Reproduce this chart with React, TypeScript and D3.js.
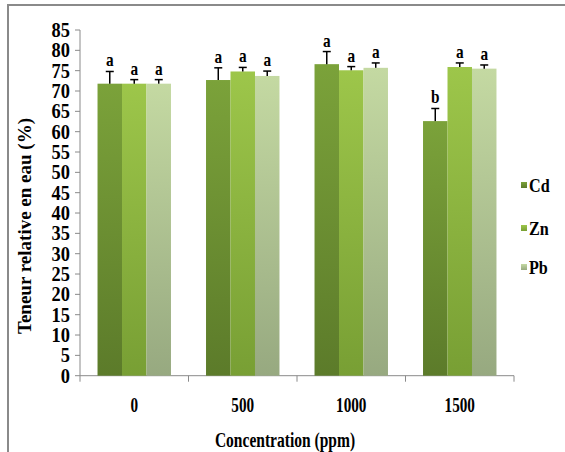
import React from "react";
import * as d3 from "d3";

const categories = ["0", "500", "1000", "1500"];
const seriesNames = ["Cd", "Zn", "Pb"];
const cdValues = [71.8, 72.7, 76.6, 62.6];
const znValues = [71.8, 74.8, 75.1, 75.9];
const pbValues = [71.8, 73.7, 75.7, 75.5];
const cdErrors = [3.0, 3.0, 3.1, 3.1];
const znErrors = [1.0, 1.0, 0.9, 1.0];
const pbErrors = [1.0, 1.2, 1.2, 0.9];
const cdLetters = ["a", "a", "a", "b"];
const znLetters = ["a", "a", "a", "a"];
const pbLetters = ["a", "a", "a", "a"];
const yTicks = d3.range(0, 90, 5);

const values = [cdValues, znValues, pbValues];
const errors = [cdErrors, znErrors, pbErrors];
const letters = [cdLetters, znLetters, pbLetters];
const gradTop = ["#7ba23a", "#9dc64a", "#c4d9a2"];
const gradBot = ["#5c7b2a", "#789f34", "#97a980"];

const W = 565, H = 452;
const left = 80, right = 514, top = 30, bottom = 375.7;

export default function App() {
  const x = d3.scaleBand<string>().domain(categories).range([left, right]).paddingInner(0.323).paddingOuter(0.1615);
  const xs = d3.scaleBand<string>().domain(seriesNames).range([0, x.bandwidth()]);
  const y = d3.scaleLinear().domain([0, 85]).range([bottom, top]);
  const step = (right - left) / categories.length;
  const font = "Liberation Serif, serif";

  return (
    <svg width={W} height={H} style={{ position: "absolute", left: 0, top: 0 }}>
      <defs>
        {seriesNames.map((s, i) => (
          <linearGradient key={s} id={`g${i}`} x1="0" y1="0" x2="0" y2="1">
            <stop offset="0" stopColor={gradTop[i]} />
            <stop offset="1" stopColor={gradBot[i]} />
          </linearGradient>
        ))}
      </defs>
      <rect x={0} y={0} width={W} height={H} fill="#fff" />
      <path d={`M8,${H} V5 H${W}`} fill="none" stroke="#8a8a8a" strokeWidth={2} />
      {/* y axis */}
      <line x1={left} x2={left} y1={top} y2={bottom} stroke="#8a8a8a" strokeWidth={1} />
      {yTicks.map((t) => (
        <g key={t}>
          <line x1={left - 5} x2={left} y1={y(t)} y2={y(t)} stroke="#8a8a8a" />
          <text transform={`translate(70,${y(t)}) scale(0.92,1)`} dy="0.35em" textAnchor="end" fontFamily={font} fontWeight="bold" fontSize={20}>
            {t}
          </text>
        </g>
      ))}
      {/* x axis */}
      <line x1={left} x2={right} y1={bottom} y2={bottom} stroke="#8a8a8a" strokeWidth={1} />
      {d3.range(categories.length + 1).map((i) => (
        <line key={i} x1={left + i * step} x2={left + i * step} y1={bottom} y2={bottom + 6} stroke="#8a8a8a" />
      ))}
      {/* bars */}
      {categories.map((c, ci) => (
        <g key={c}>
          {seriesNames.map((s, si) => {
            const v = values[si][ci];
            const e = errors[si][ci];
            const bx = (x(c) as number) + (xs(s) as number);
            const bw = xs.bandwidth();
            const cx = bx + bw / 2;
            return (
              <g key={s}>
                <rect x={bx} y={y(v)} width={bw} height={bottom - y(v)} fill={`url(#g${si})`} />
                <line x1={cx} x2={cx} y1={y(v)} y2={y(v + e)} stroke="#000" strokeWidth={1.5} />
                <line x1={cx - 4} x2={cx + 4} y1={y(v + e)} y2={y(v + e)} stroke="#000" strokeWidth={1.5} />
                <text transform={`translate(${cx},${y(v + e) - 5}) scale(0.85,1)`} textAnchor="middle" fontFamily={font} fontWeight="bold" fontSize={18}>
                  {letters[si][ci]}
                </text>
              </g>
            );
          })}
          <text
            transform={`translate(${(x(c) as number) + x.bandwidth() / 2},${412}) scale(0.76,1)`}
            textAnchor="middle"
            fontFamily={font}
            fontWeight="bold"
            fontSize={20}
          >
            {c}
          </text>
        </g>
      ))}
      {/* axis titles */}
      <text transform={`translate(285,447) scale(0.74,1)`} textAnchor="middle" fontFamily={font} fontWeight="bold" fontSize={21}>
        Concentration (ppm)
      </text>
      <text transform={`translate(31,226) rotate(-90)`} textAnchor="middle" fontFamily={font} fontWeight="bold" fontSize={19}>
        Teneur relative en eau (%)
      </text>
      {/* legend */}
      {seriesNames.map((s, i) => {
        const ly = [185, 228, 267][i];
        return (
          <g key={s}>
            <rect x={521} y={ly - 3} width={6} height={6} fill={`url(#g${i})`} />
            <text transform={`translate(529,${ly}) scale(0.85,1)`} dy="0.35em" fontFamily={font} fontWeight="bold" fontSize={19}>
              {s}
            </text>
          </g>
        );
      })}
    </svg>
  );
}
